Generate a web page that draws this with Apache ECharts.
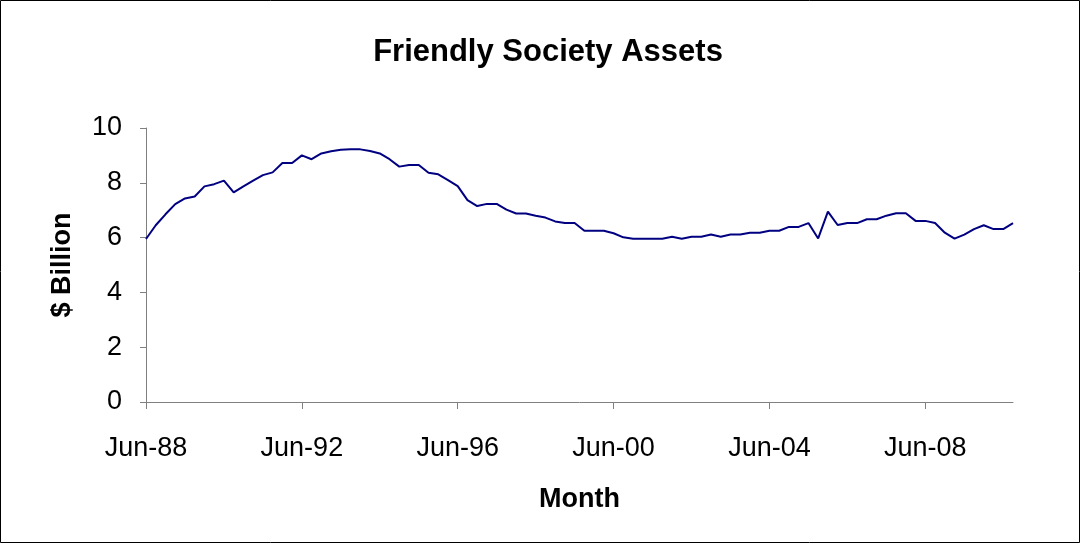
<!DOCTYPE html>
<html>
<head>
<meta charset="utf-8">
<title>Friendly Society Assets</title>
<script src="https://cdn.jsdelivr.net/npm/echarts@6/dist/echarts.min.js"></script>
<style>
  html, body { margin: 0; padding: 0; background: #fff; }
  #chart { width: 1081px; height: 544px; }
</style>
</head>
<body>
<div id="chart"></div>
<script>
// Quarterly months, Jun-88 to Sep-10
const months = [
  'Jun-88','Sep-88','Dec-88',
  'Mar-89','Jun-89','Sep-89','Dec-89',
  'Mar-90','Jun-90','Sep-90','Dec-90',
  'Mar-91','Jun-91','Sep-91','Dec-91',
  'Mar-92','Jun-92','Sep-92','Dec-92',
  'Mar-93','Jun-93','Sep-93','Dec-93',
  'Mar-94','Jun-94','Sep-94','Dec-94',
  'Mar-95','Jun-95','Sep-95','Dec-95',
  'Mar-96','Jun-96','Sep-96','Dec-96',
  'Mar-97','Jun-97','Sep-97','Dec-97',
  'Mar-98','Jun-98','Sep-98','Dec-98',
  'Mar-99','Jun-99','Sep-99','Dec-99',
  'Mar-00','Jun-00','Sep-00','Dec-00',
  'Mar-01','Jun-01','Sep-01','Dec-01',
  'Mar-02','Jun-02','Sep-02','Dec-02',
  'Mar-03','Jun-03','Sep-03','Dec-03',
  'Mar-04','Jun-04','Sep-04','Dec-04',
  'Mar-05','Jun-05','Sep-05','Dec-05',
  'Mar-06','Jun-06','Sep-06','Dec-06',
  'Mar-07','Jun-07','Sep-07','Dec-07',
  'Mar-08','Jun-08','Sep-08','Dec-08',
  'Mar-09','Jun-09','Sep-09','Dec-09',
  'Mar-10','Jun-10','Sep-10'
];

// Total assets, $ billion
const assets = [
  5.95, 6.45, 6.85,
  7.22, 7.43, 7.50, 7.87,
  7.95, 8.08, 7.65, 7.87,
  8.08, 8.28, 8.38, 8.72,
  8.72, 9.00, 8.86, 9.07,
  9.15, 9.21, 9.22, 9.22,
  9.16, 9.07, 8.86, 8.59,
  8.65, 8.65, 8.37, 8.31,
  8.10, 7.88, 7.37, 7.15,
  7.23, 7.23, 7.02, 6.88,
  6.88, 6.80, 6.73, 6.59,
  6.53, 6.53, 6.25, 6.25,
  6.25, 6.16, 6.01, 5.96,
  5.96, 5.96, 5.96, 6.03,
  5.96, 6.03, 6.03, 6.11,
  6.03, 6.11, 6.11, 6.18,
  6.18, 6.25, 6.25, 6.39,
  6.39, 6.53, 5.97, 6.95,
  6.46, 6.53, 6.53, 6.67,
  6.67, 6.80, 6.89, 6.89,
  6.61, 6.61, 6.53, 6.18,
  5.96, 6.11, 6.31, 6.45,
  6.31, 6.31, 6.53
];

const titleText = 'Friendly Society Assets';
const xName = 'Month';
const yName = '$ Billion';

const FONT = '"Liberation Sans", Arial, sans-serif';
const AXIS_GREY = '#808080';

const chart = echarts.init(document.getElementById('chart'), null, { renderer: 'canvas' });

chart.setOption({
  animation: false,
  backgroundColor: '#ffffff',
  textStyle: { fontFamily: FONT },
  graphic: [
    {
      type: 'rect',
      shape: { x: 0.5, y: 0.5, width: 1079, height: 542 },
      style: { fill: 'none', stroke: '#000', lineWidth: 1 },
      silent: true
    },
    {
      type: 'text',
      x: 548, y: 52,
      style: {
        text: titleText, fill: '#000',
        font: 'bold 31px ' + FONT,
        textAlign: 'center', textVerticalAlign: 'middle'
      }
    }
  ],
  grid: { left: 146, top: 128, right: 68, bottom: 142, containLabel: false },
  xAxis: {
    type: 'category',
    data: months,
    boundaryGap: false,
    name: xName,
    nameLocation: 'middle',
    nameGap: 84,
    nameTextStyle: { fontSize: 27, fontWeight: 'bold', color: '#000', fontFamily: FONT },
    axisLine: { lineStyle: { color: AXIS_GREY, width: 1 } },
    axisTick: { show: true, interval: 15, length: 7, inside: false, lineStyle: { color: AXIS_GREY } },
    axisLabel: { interval: 15, fontSize: 27, color: '#000', margin: 33, fontFamily: FONT },
    splitLine: { show: false }
  },
  yAxis: {
    type: 'value',
    min: 0, max: 10, interval: 2,
    name: yName,
    nameLocation: 'middle',
    nameGap: 70,
    nameRotate: 90,
    nameTextStyle: { fontSize: 27, fontWeight: 'bold', color: '#000', fontFamily: FONT },
    axisLine: { show: true, lineStyle: { color: AXIS_GREY, width: 1 } },
    axisTick: { show: true, length: 6, inside: false, lineStyle: { color: AXIS_GREY } },
    axisLabel: { fontSize: 27, color: '#000', margin: 24, fontFamily: FONT },
    splitLine: { show: false }
  },
  series: [{
    type: 'line',
    data: assets,
    showSymbol: false,
    symbol: 'none',
    lineStyle: { color: '#000080', width: 2 },
    itemStyle: { color: '#000080' }
  }]
});
</script>
</body>
</html>
